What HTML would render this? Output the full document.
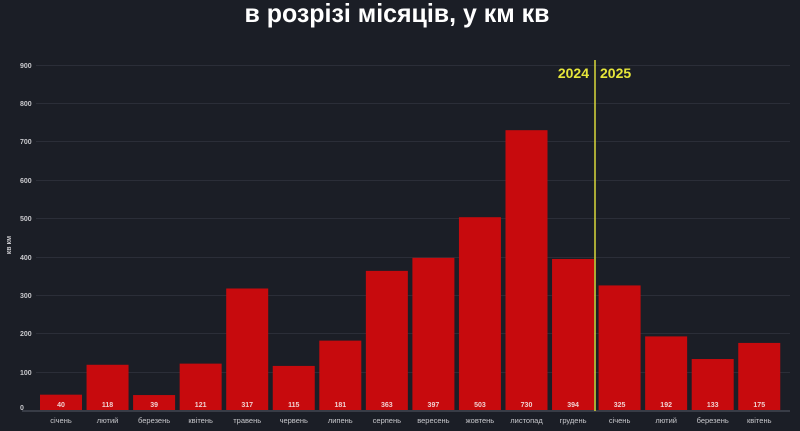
<!DOCTYPE html>
<html><head><meta charset="utf-8"><style>
html,body{margin:0;padding:0;background:#1b1e26;}
svg{display:block}
</style></head><body>
<svg width="800" height="431" viewBox="0 0 800 431" xmlns="http://www.w3.org/2000/svg" font-family="Liberation Sans, DejaVu Sans, sans-serif">
<rect width="800" height="431" fill="#1b1e26"/>
<text x="397" y="22" text-anchor="middle" fill="#ffffff" font-size="26" font-weight="bold" textLength="305" lengthAdjust="spacingAndGlyphs">в розрізі місяців, у км кв</text>
<g stroke="#2b2e38" stroke-width="1">
<line x1="36" x2="790" y1="65.5" y2="65.5"/>
<line x1="36" x2="790" y1="103.5" y2="103.5"/>
<line x1="36" x2="790" y1="141.5" y2="141.5"/>
<line x1="36" x2="790" y1="180.5" y2="180.5"/>
<line x1="36" x2="790" y1="218.5" y2="218.5"/>
<line x1="36" x2="790" y1="257.5" y2="257.5"/>
<line x1="36" x2="790" y1="295.5" y2="295.5"/>
<line x1="36" x2="790" y1="333.5" y2="333.5"/>
<line x1="36" x2="790" y1="372.5" y2="372.5"/>
</g>
<line x1="22" x2="790" y1="411" y2="411" stroke="#555a66" stroke-width="1"/>
<g fill="#c8c8cc" font-size="7" font-weight="bold">
<text x="20" y="68">900</text><text x="20" y="106">800</text><text x="20" y="144">700</text>
<text x="20" y="183">600</text><text x="20" y="221">500</text><text x="20" y="260">400</text>
<text x="20" y="298">300</text><text x="20" y="336">200</text><text x="20" y="375">100</text>
<text x="20" y="410">0</text>
</g>
<text transform="translate(11,245) rotate(-90)" fill="#c8c8cc" font-size="7" font-weight="bold" text-anchor="middle">кв км</text>
<g fill="#c70a0d" id="bars"></g>
<line x1="595" x2="595" y1="60" y2="411" stroke="#d9d93a" stroke-width="1.5"/>
<text x="589" y="78" text-anchor="end" fill="#e6e63a" font-size="14" font-weight="bold">2024</text>
<text x="600" y="78" fill="#e6e63a" font-size="14" font-weight="bold">2025</text>
<g id="labels"></g>
<script>
var v=[40,118,39,121,317,115,181,363,397,503,730,394,325,192,133,175];
var m=["січень","лютий","березень","квітень","травень","червень","липень","серпень","вересень","жовтень","листопад","грудень","січень","лютий","березень","квітень"];
var ns="http://www.w3.org/2000/svg",b=document.getElementById("bars"),l=document.getElementById("labels");
for(var i=0;i<16;i++){var cx=61+i*46.55,h=v[i]*0.3833;
var r=document.createElementNS(ns,"rect");r.setAttribute("x",cx-21);r.setAttribute("y",410-h);r.setAttribute("width",42);r.setAttribute("height",h);b.appendChild(r);
var t=document.createElementNS(ns,"text");t.setAttribute("x",cx);t.setAttribute("y",407);t.setAttribute("text-anchor","middle");t.setAttribute("fill","#f0d0d0");t.setAttribute("font-size","7");t.setAttribute("font-weight","bold");t.textContent=v[i];l.appendChild(t);
var t2=document.createElementNS(ns,"text");t2.setAttribute("x",cx);t2.setAttribute("y",423);t2.setAttribute("text-anchor","middle");t2.setAttribute("fill","#c8c8cc");t2.setAttribute("font-size","7.5");t2.textContent=m[i];l.appendChild(t2);}
</script>
</svg>
</body></html>
